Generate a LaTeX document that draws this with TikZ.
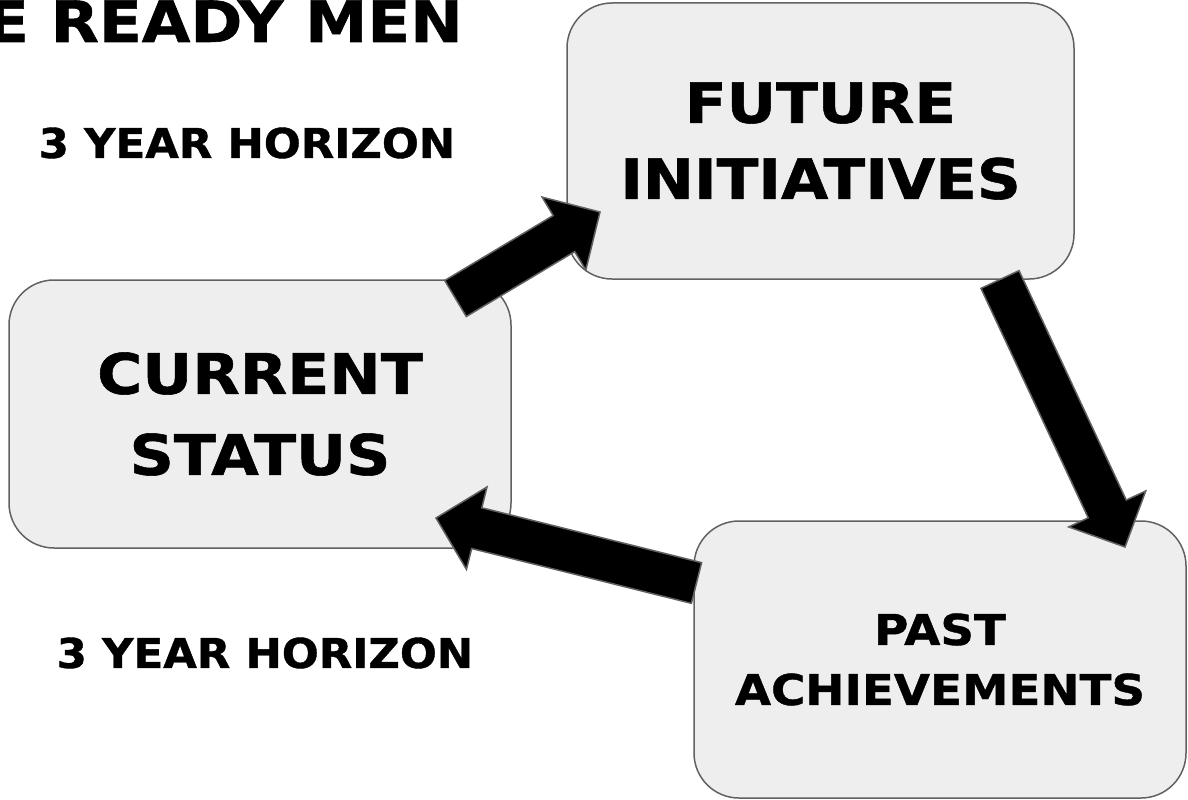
\documentclass[tikz,border=0pt]{standalone}
\usepackage{fontspec}
\usetikzlibrary{calc}

\newfontfamily\stencil[FakeStretch=1.1,FakeBold=1]{DejaVu Sans}
\newfontfamily\stencilwide[FakeStretch=1.06,FakeBold=1]{DejaVu Sans}

\definecolor{boxfill}{HTML}{EEEEEE}
\definecolor{edge}{HTML}{616161}

\tikzset{
	box/.style={draw=edge,fill=boxfill,line width=1.5pt,rounded corners=45pt,
		align=center,inner sep=0pt},
	bigarrow/.style={fill=black,draw=edge,line width=1.5pt,line join=miter},
	horizon/.style={inner sep=0pt,font=\stencilwide\bfseries\fontsize{41}{48}\selectfont},
}

% block arrow from #1 (tail) to #2 (tip)
\newcommand{\blockarrow}[2]{%
	\draw[bigarrow] ($(#1)!21pt!90:(#2)$)
		-- ($(#2)!42pt!(#1)!21pt!90:(#2)$)
		-- ($(#2)!42pt!(#1)!42.5pt!90:(#2)$)
		-- (#2)
		-- ($(#2)!42pt!(#1)!42.5pt!-90:(#2)$)
		-- ($(#2)!42pt!(#1)!21pt!-90:(#2)$)
		-- ($(#1)!21pt!-90:(#2)$) -- cycle;
}

\begin{document}
\begin{tikzpicture}[x=1pt,y=-1pt]

\clip (0,0) rectangle (1188,800);

\node[anchor=base east,inner sep=0pt,font=\stencil\bfseries\fontsize{57}{60}\selectfont] (title) at (463,42) {E READY MEN};

\node[horizon] (hor1) at (247,143) {3 YEAR HORIZON};
\node[horizon] (hor2) at (265,653) {3 YEAR HORIZON};

\node[box,minimum width=507pt,minimum height=276pt,
	font=\stencil\bfseries\fontsize{55.5}{76}\selectfont] (fut) at (820.5,141) {FUTURE\\INITIATIVES};
\node[box,minimum width=502pt,minimum height=268pt,
	font=\stencil\bfseries\fontsize{56}{81}\selectfont] (cur) at (260,414) {CURRENT\\STATUS};
\node[box,minimum width=492pt,minimum height=277pt,
	font=\stencil\bfseries\fontsize{42.5}{60}\selectfont] (past) at (940,659.5) {PAST\\ACHIEVEMENTS};

\coordinate (cur-out) at (455.5,298.5);
\coordinate (fut-in) at (600,212);
\coordinate (fut-out) at (1000,279.5);
\coordinate (past-in) at (1125,547);
\coordinate (past-out) at (696.5,583);
\coordinate (cur-in) at (436,518);

\foreach \s/\t in {cur-out/fut-in,fut-out/past-in,past-out/cur-in}{
	\blockarrow{\s}{\t}
}

\end{tikzpicture}
\end{document}
